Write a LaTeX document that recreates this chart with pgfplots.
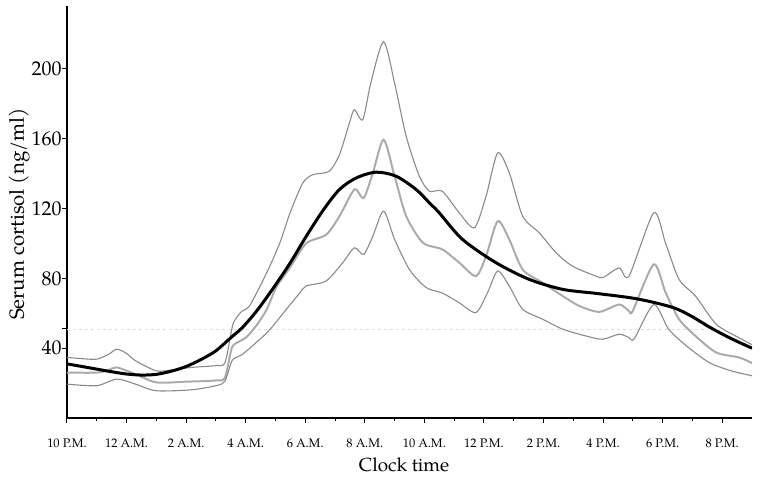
\documentclass[border=0pt]{standalone}
\usepackage{pgfplots}
\pgfplotsset{compat=1.18}
\usepackage{fontspec}
\setmainfont{TeX Gyre Pagella}
\definecolor{thingray}{HTML}{8A8A8A}
\definecolor{midgray}{HTML}{ABABAB}
\definecolor{faint}{HTML}{DDDDDD}
\newcommand{\yt}[1]{{\fontsize{20}{22}\selectfont #1}}
\newcommand{\xt}[1]{{\fontsize{12.5}{14}\selectfont #1}}
\begin{document}
\begin{tikzpicture}
\useasboundingbox (-67bp,-62bp) rectangle (696bp,418bp);
\begin{axis}[
  at={(0,0)}, anchor=south west,
  scale only axis, width=685bp, height=412bp,
  xmin=0, xmax=23, ymin=0, ymax=236,
  axis lines*=left,
  axis line style={black, line width=1.3bp},
  xtick={0,2,...,22},
  xticklabels={\xt{10 P.M.}, \xt{12 A.M.}, \xt{2 A.M.}, \xt{4 A.M.}, \xt{6 A.M.}, \xt{8 A.M.}, \xt{10 A.M.}, \xt{12 P.M.}, \xt{2 P.M.}, \xt{4 P.M.}, \xt{6 P.M.}, \xt{8 P.M.}},
  minor xtick={1,3,...,21},
  ytick={40,80,120,160,200},
  yticklabels={\yt{40}, \yt{80}, \yt{120}, \yt{160}, \yt{200}},
  extra y ticks={51}, extra y tick labels={},
  tick align=outside,
  major tick length=5bp, minor tick length=3bp,
  tick style={black, line width=1bp},
  xticklabel style={anchor=base, yshift=-24bp},
  yticklabel style={xshift=3bp},
  xlabel={Clock time},
  ylabel={Serum cortisol (ng/ml)},
  xlabel style={font=\fontsize{19}{21}\selectfont, at={(axis description cs:0.492,0)}, anchor=base, yshift=-53bp},
  ylabel style={font=\fontsize{20.5}{22}\selectfont, at={(axis description cs:-0.070,0.495)}, anchor=center},
]
\addplot[faint, dashed, line width=0.8bp] coordinates {(0,51) (21.5,51)};
% upper
\addplot[thingray, line width=1.1bp, smooth, tension=0.45] coordinates {
(0,34.7) (0.5,34) (1,33.7) (1.4,36.5) (1.67,39.4) (2,37) (2.3,32.8) (3,27) (3.5,27.5) (4.2,29) (5.0,30) (5.3,31.5) (5.5,48) (5.6,55) (5.86,61) (6.14,64.5) (6.7,83) (7.14,100) (7.5,118) (7.92,134.7) (8.26,139.4) (8.8,141.3) (9.15,150.9) (9.5,170) (9.65,176.6) (9.93,170.9) (10.2,191.8) (10.63,215.6) (11.0,191.8) (11.39,161.3) (11.83,138.5) (12.17,129.9) (12.6,129.9) (13.17,117.5) (13.68,109) (14.07,127) (14.46,151.8) (14.85,140.4) (15.3,115.6) (15.86,106) (16.42,94.7) (16.97,87) (17.76,81.3) (18.0,80.5) (18.54,86) (18.87,81.3) (19.7,117.5) (20.1,100) (20.55,79.4) (21.1,69.9) (21.8,53.7) (22.56,46) (23,42)
};
% middle
\addplot[midgray, line width=2bp, smooth, tension=0.45] coordinates {
(0,26) (1,26) (1.4,27.5) (1.67,29) (2.3,25.1) (3,20.4) (4,20.8) (5,21.5) (5.3,23) (5.5,38) (5.6,42) (6.0,46) (6.36,53) (6.7,62) (7.03,75) (7.48,86) (8.03,100) (8.7,105) (9.15,115.6) (9.65,130.9) (9.96,126) (10.27,140.4) (10.63,159.4) (11.0,138.5) (11.39,115.6) (11.95,100.4) (12.6,96.6) (13.17,89) (13.73,81.3) (14.07,92.7) (14.46,112.7) (14.85,102.3) (15.3,85) (15.97,77.5) (16.64,69.9) (17.2,64.2) (17.87,60.8) (18.54,65) (18.87,61.3) (19.0,61.5) (19.7,88) (20.1,71.8) (20.55,56.6) (21.1,47) (21.8,37.5) (22.56,34.7) (23,31.5)
};
% lower
\addplot[thingray, line width=1.1bp, smooth, tension=0.45] coordinates {
(0,19.4) (1,18.5) (1.67,22.3) (2.3,19.4) (3,15.6) (4.2,16.2) (5,18.5) (5.3,21) (5.55,33) (5.9,36.6) (6.6,47) (6.92,52.8) (7.4,63) (7.81,71.5) (8.03,75.6) (8.7,78.5) (9.26,89) (9.65,97.5) (9.96,93.7) (10.27,104.2) (10.63,118.5) (11.0,102.3) (11.5,85) (12.06,74.7) (12.6,71.6) (13.17,66) (13.73,60.4) (14.12,71.8) (14.46,84.2) (14.85,75.6) (15.3,62.3) (15.97,56.6) (16.64,50.9) (17.42,47) (17.98,45.1) (18.54,48) (18.87,46.1) (19.05,45.5) (19.7,65) (20.2,50.9) (20.8,41.3) (21.56,31.8) (22.3,27) (23,24.2)
};
% mean
\addplot[black, line width=3bp, smooth, tension=0.5] coordinates {
(0,31) (0.5,29.5) (1,28) (1.5,26.5) (2,25.2) (2.5,24.6) (3,25) (3.5,26.8) (4,29.5) (4.5,33.5) (5,38.5) (5.5,46) (5.9,52) (6.4,62) (6.95,75) (7.5,89) (8.03,104) (8.6,119) (9.15,130.9) (9.71,137.5) (10.38,140.8) (11.05,138.5) (11.72,130.9) (12.17,123.2) (12.5,117.5) (13.28,102.3) (14.4,89) (15.52,79.4) (16.64,73.7) (17.76,71.4) (18.87,69) (19.5,67) (20.1,64.5) (20.5,62.3) (21,58) (21.6,51.8) (22.3,45.5) (23,40)
};
\end{axis}
\end{tikzpicture}
\end{document}
